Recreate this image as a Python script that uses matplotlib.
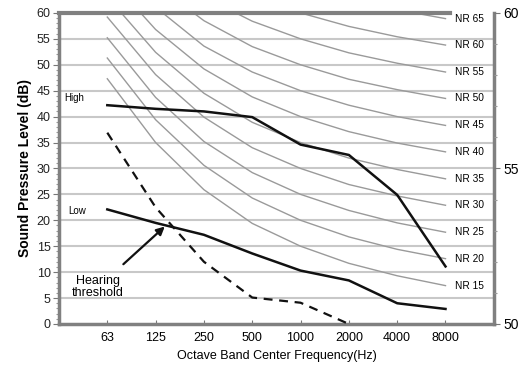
import matplotlib
matplotlib.use("Agg")
import matplotlib.pyplot as plt
from matplotlib.ticker import MultipleLocator

plt.rcParams['font.family'] = ['Liberation Sans', 'DejaVu Sans']

freqs = ['63', '125', '250', '500', '1000', '2000', '4000', '8000']

# NR curves (dB) per octave band
nr_names = ['NR 15', 'NR 20', 'NR 25', 'NR 30', 'NR 35', 'NR 40',
            'NR 45', 'NR 50', 'NR 55', 'NR 60', 'NR 65']
nr15 = [47.3, 35.0, 25.9, 19.4, 15, 11.7, 9.3, 7.4]
nr20 = [51.3, 39.4, 30.6, 24.3, 20, 16.8, 14.4, 12.6]
nr25 = [55.2, 43.7, 35.2, 29.2, 25, 21.9, 19.5, 17.7]
nr30 = [59.2, 48.1, 39.9, 34.0, 30, 26.9, 24.7, 22.9]
nr35 = [63.1, 52.4, 44.5, 38.9, 35, 32.0, 29.8, 28.0]
nr40 = [67.1, 56.8, 49.2, 43.8, 40, 37.1, 34.9, 33.2]
nr45 = [71.0, 61.1, 53.6, 48.6, 45, 42.2, 40.0, 38.3]
nr50 = [75.0, 65.5, 58.5, 53.5, 50, 47.2, 45.2, 43.5]
nr55 = [78.9, 69.8, 63.1, 58.4, 55, 52.3, 50.3, 48.6]
nr60 = [82.9, 74.2, 67.8, 63.2, 60, 57.4, 55.4, 53.8]
nr65 = [86.8, 78.5, 72.4, 68.1, 65, 62.5, 60.6, 58.9]
nr_curves = [nr15, nr20, nr25, nr30, nr35, nr40, nr45, nr50, nr55, nr60, nr65]

high = [42.2, 41.5, 41.0, 39.9, 34.6, 32.6, 24.9, 11.1]
low = [22.1, 19.5, 17.2, 13.6, 10.3, 8.4, 4.0, 2.9]
threshold = [36.9, 22.5, 12.0, 5.1, 4.1, 0.0]

fig = plt.figure(figsize=(5.22, 3.69), dpi=100)
ax = fig.add_axes([0.113, 0.122, 0.833, 0.843])
x = list(range(len(freqs)))

for y in range(5, 60, 5):
    ax.axhline(y, color='#c8c8c8', lw=1.5, zorder=1)

for name, vals in zip(nr_names, nr_curves):
    ax.plot(x, vals, color='#9a9a9a', lw=1.0, zorder=2)
    ax.text(7.2, vals[-1], name, fontsize=7.3, va='center', ha='left')

ax.plot(x, high, color='#111111', lw=1.8, zorder=3)
ax.plot(x, low, color='#111111', lw=1.8, zorder=3)
ax.plot(x[:len(threshold)], threshold, color='#111111', lw=1.6,
        ls=(0, (4, 3)), zorder=3)

ax.text(-0.9, 43.6, 'High', fontsize=7, va='center', ha='left')
ax.text(-0.8, 21.7, 'Low', fontsize=7, va='center', ha='left')
ax.annotate('Hearing\nthreshold', xy=(1.19, 18.8), xytext=(-0.19, 7.1),
            fontsize=9, ha='center', va='center', linespacing=0.95,
            arrowprops=dict(arrowstyle='-|>', color='#111111', lw=1.6,
                            mutation_scale=12, shrinkA=9, shrinkB=0))

ax.set_xlim(-1, 8)
ax.set_ylim(0, 60)
ax.set_xticks(x)
ax.set_xticklabels(freqs)
ax.yaxis.set_major_locator(MultipleLocator(5))
ax.yaxis.set_minor_locator(MultipleLocator(1))
ax.tick_params(axis='x', direction='in', length=3, width=0.8, color='#777777',
               labelsize=9, pad=6)
ax.tick_params(axis='y', which='major', length=4, width=0.8, color='#777777',
               labelsize=9, pad=2, labelcolor='#222222')
ax.tick_params(axis='y', which='minor', length=2, width=0.8, color='#999999')

for side in ['left', 'bottom', 'right']:
    ax.spines[side].set_color('#808080')
    ax.spines[side].set_linewidth(2.5)
ax.spines['top'].set_visible(False)
ax.axhline(60, xmin=0, xmax=0.899, color='#808080', lw=3, clip_on=False, zorder=4)

ax.set_ylabel('Sound Pressure Level (dB)', fontsize=10, fontweight='bold', labelpad=3)
ax.set_xlabel('Octave Band Center Frequency(Hz)', fontsize=9, labelpad=4)

ax2 = ax.twinx()
ax2.set_ylim(50, 60)
ax2.yaxis.set_major_locator(MultipleLocator(5))
ax2.yaxis.set_minor_locator(MultipleLocator(1))
ax2.tick_params(axis='y', which='major', length=4, width=0.8, color='#777777',
                labelsize=10, pad=3)
ax2.tick_params(axis='y', which='minor', length=2, width=0.8, color='#999999')
for s in ax2.spines.values():
    s.set_visible(False)

fig.savefig('out.png', dpi=100)
